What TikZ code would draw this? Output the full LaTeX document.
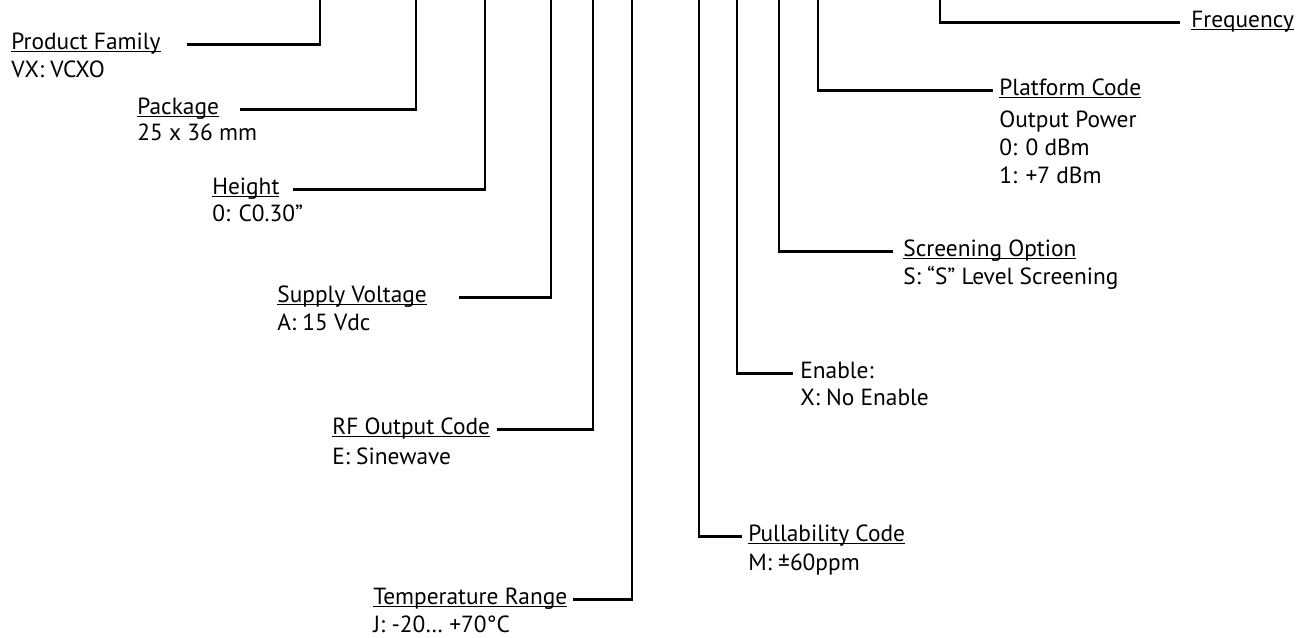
\documentclass[tikz,border=0pt]{standalone}
\usepackage{fontspec}
\setmainfont{PT Sans}
% underline that sits just under the baseline
\newcommand{\ultext}[1]{\setbox0\hbox{#1}\rlap{\rule[-1.7pt]{\wd0}{0.6pt}}\box0}

\begin{document}
\begin{tikzpicture}[x=0.02cm, y=-0.02cm,
  ttl/.style={anchor=base west, inner sep=0pt, font=\fontsize{13.3}{16}\selectfont},
  val/.style={anchor=base west, inner sep=0pt, font=\fontsize{13.3}{16}\selectfont},
  lead/.style={line width=1.5pt}]
\useasboundingbox (0,0) rectangle (1304,637);
% tops of the lead lines (they run off the top edge)
\foreach \n/\x in {pf/320,pk/416,ht/485,sv/551,rf/593,tr/632,pl/699,en/737,sc/779,pc/818,fr/940}{\coordinate (\n-top) at (\x,-4);}
% ================= fields on the left =================
\node[ttl] (pf) at (11,49) {\ultext{Product Family}};
\node[val] (pf-v) at (11,77) {VX: VCXO};
\node[ttl] (pk) at (137,114) {\ultext{Package}};
\node[val] (pk-v) at (137,140) {25 x 36 mm};
\node[ttl] (ht) at (212,194) {\ultext{Height}};
\node[val] (ht-v) at (212,221) {0: C0.30”};
\node[ttl] (sv) at (277,302) {\ultext{Supply Voltage}};
\node[val] (sv-v) at (277,330) {A: 15 Vdc};
\node[ttl] (rf) at (332,434) {\ultext{RF Output Code}};
\node[val] (rf-v) at (332,464) {E: Sinewave};
\node[ttl] (tr) at (373,604) {\ultext{Temperature Range}};
\node[val] (tr-v) at (373,632) {J: -20… +70°C};
\draw[lead, shorten >=14.7pt] (pf-top) |- (pf.mid east);
\draw[lead, shorten >=11.9pt] (pk-top) |- (pk.mid east);
\draw[lead, shorten >=7.4pt] (ht-top) |- (ht.mid east);
\draw[lead, shorten >=18pt] (sv-top) |- (sv.mid east);
\draw[lead, shorten >=4pt] (rf-top) |- (rf.mid east);
\draw[lead, shorten >=2.8pt] (tr-top) |- (tr.mid east);
% ================= fields on the right =================
\node[ttl] (pl) at (748,541) {\ultext{Pullability Code}};
\node[val] (pl-v) at (748,570) {M: ±60ppm};
\node[ttl] (en) at (800,378) {Enable:};
\node[val] (en-v) at (800,405) {X: No Enable};
\node[ttl] (sc) at (903,256) {\ultext{Screening Option}};
\node[val] (sc-v) at (903,284) {S: “S” Level Screening};
\node[ttl] (pc) at (999,95) {\ultext{Platform Code}};
\foreach \t [count=\i] in {Output Power, 0: 0 dBm, 1: +7 dBm}{\node[val] (pc-v\i) at (999,{127+28*(\i-1)}) {\t};}
\node[ttl] (fr) at (1191,27) {\ultext{Frequency}};
\draw[lead, shorten >=3.4pt] (pl-top) |- (pl.mid west);
\draw[lead, shorten >=4pt] (en-top) |- (en.mid west);
\draw[lead, shorten >=5.7pt] (sc-top) |- (sc.mid west);
\draw[lead, shorten >=3.4pt] (pc-top) |- (pc.mid west);
\draw[lead, shorten >=6.2pt] (fr-top) |- (fr.mid west);
\end{tikzpicture}
\end{document}
